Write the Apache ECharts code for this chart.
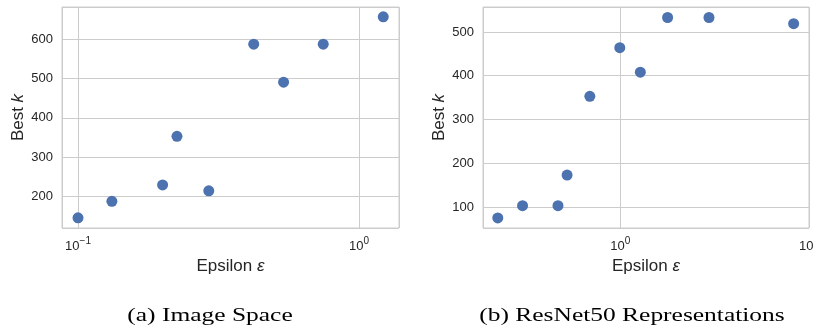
<!DOCTYPE html>
<html>
<head>
<meta charset="utf-8">
<script src="https://cdn.jsdelivr.net/npm/echarts@6/dist/echarts.min.js"></script>
<style>
  html, body { margin: 0; padding: 0; background: #fff; }
  #chart { width: 813px; height: 331px; }
</style>
</head>
<body>
<div id="chart"></div>
<script>
// (a) Image Space
var imageEps = [0.1, 0.132, 0.2, 0.225, 0.292, 0.422, 0.539, 0.746, 1.22];
var imageK = [145, 187, 229, 353, 214, 588, 491, 588, 658];

// (b) ResNet50 Representations
var resnetEps = [0.224, 0.303, 0.467, 0.522, 0.689, 0.993, 1.276, 1.78, 2.95, 8.29];
var resnetK = [75, 103, 103, 173, 353, 464, 408, 533, 533, 519];

var captions = ['(a) Image Space', '(b) ResNet50 Representations'];

function pairs(xs, ys) {
	var out = [];
	for (var i = 0; i < xs.length; i++) out.push([xs[i], ys[i]]);
	return out;
}

var tickColor = '#262626';
var gridColor = '#cccccc';
var dotColor = '#4c72b0';
var sans = 'Liberation Sans';

function expLabel(v) {
	var e = Math.round(Math.log(v) / Math.LN10);
	return '{b|10}{s|' + (e < 0 ? '\u2212' + (-e) : e) + '}';
}

function xAxisFor(idx, min, max, showMax) {
	return {
		gridIndex: idx,
		type: 'log',
		logBase: 10,
		min: min,
		max: max,
		name: 'Epsilon {i|\u03b5}',
		nameLocation: 'middle',
		nameGap: 27,
		nameTextStyle: {
			fontFamily: sans, fontSize: 17, color: tickColor,
			rich: { i: { fontFamily: sans, fontSize: 17, fontStyle: 'italic', color: tickColor } }
		},
		axisLine: { show: false },
		axisTick: { show: false },
		minorTick: { show: false },
		splitLine: { show: true, lineStyle: { color: gridColor, width: 1 } },
		axisLabel: {
			showMinLabel: false,
			showMaxLabel: showMax,
			margin: 8,
			formatter: expLabel,
			rich: {
				b: { fontFamily: sans, fontSize: 13, lineHeight: 17, color: tickColor, verticalAlign: 'bottom' },
				s: { fontFamily: sans, fontSize: 10, lineHeight: 17, color: tickColor, verticalAlign: 'top' }
			}
		}
	};
}

function yAxisFor(idx, min, max) {
	return {
		gridIndex: idx,
		type: 'value',
		min: min,
		max: max,
		splitNumber: 5,
		name: 'Best {i|k}',
		nameLocation: 'middle',
		nameGap: 35,
		nameTextStyle: {
			fontFamily: sans, fontSize: 17, color: tickColor,
			rich: { i: { fontFamily: sans, fontSize: 17, fontStyle: 'italic', color: tickColor } }
		},
		axisLine: { show: false },
		axisTick: { show: false },
		splitLine: { show: true, lineStyle: { color: gridColor, width: 1 } },
		axisLabel: {
			showMinLabel: false,
			showMaxLabel: false,
			margin: 9,
			fontFamily: sans,
			fontSize: 13,
			color: tickColor
		}
	};
}

var chart = echarts.init(document.getElementById('chart'), null, { renderer: 'canvas' });

chart.setOption({
	animation: false,
	backgroundColor: '#fff',
	grid: [
		{ left: 62, top: 7, width: 337, height: 221, outerBoundsMode: 'none', show: true, borderColor: gridColor, borderWidth: 1, backgroundColor: 'transparent' },
		{ left: 483, top: 7, width: 326, height: 221, outerBoundsMode: 'none', show: true, borderColor: gridColor, borderWidth: 1, backgroundColor: 'transparent' }
	],
	xAxis: [
		xAxisFor(0, 0.0877, 1.388, false),
		xAxisFor(1, 0.187, 10, true)
	],
	yAxis: [
		yAxisFor(0, 119, 683),
		yAxisFor(1, 52, 557)
	],
	series: [{
		type: 'scatter',
		xAxisIndex: 0,
		yAxisIndex: 0,
		symbolSize: 11,
		itemStyle: { color: dotColor, opacity: 1 },
		data: pairs(imageEps, imageK)
	}, {
		type: 'scatter',
		xAxisIndex: 1,
		yAxisIndex: 1,
		symbolSize: 11,
		itemStyle: { color: dotColor, opacity: 1 },
		data: pairs(resnetEps, resnetK)
	}],
	graphic: [{
		type: 'text',
		x: 210, y: 316,
		scaleX: 1.34,
		style: { text: captions[0], fontFamily: 'Liberation Serif', fontSize: 19, fill: '#000', textAlign: 'center', textVerticalAlign: 'middle' }
	}, {
		type: 'text',
		x: 632, y: 316,
		scaleX: 1.34,
		style: { text: captions[1], fontFamily: 'Liberation Serif', fontSize: 19, fill: '#000', textAlign: 'center', textVerticalAlign: 'middle' }
	}]
});
</script>
</body>
</html>
